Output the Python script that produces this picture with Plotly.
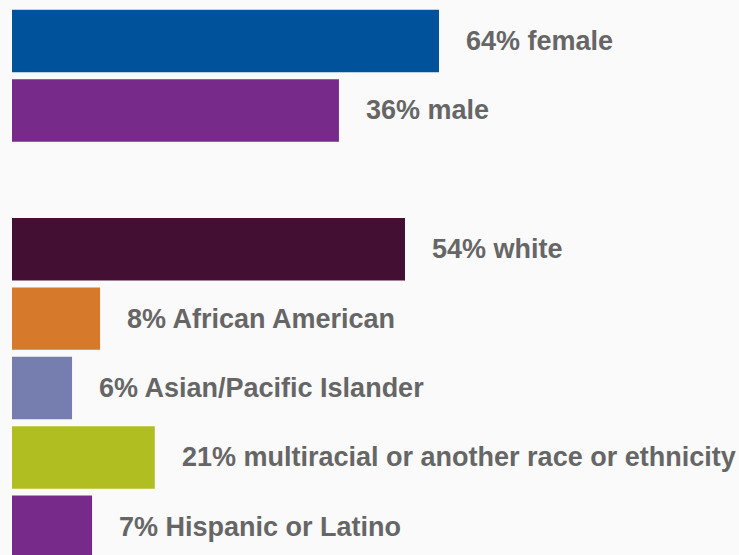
import plotly.graph_objects as go

# Data (labels show the stated percentages; bar lengths are read from the picture,
# which draws them in an illustrative, not strictly proportional, way)
categories = ["female", "male", " ", "white", "African American",
              "Asian/Pacific Islander", "multiracial or another race or ethnicity",
              "Hispanic or Latino"]
bar_categories = ["female", "male", "white", "African American",
                  "Asian/Pacific Islander", "multiracial or another race or ethnicity",
                  "Hispanic or Latino"]
percent_labels = [64, 36, 54, 8, 6, 21, 7]
bar_lengths = [64, 49, 58.9, 13.2, 9.0, 21.4, 12.0]
colors = ["#00539B", "#772A8A", "#430F33", "#D7792A", "#767EB0", "#B0BE22", "#772A8A"]

fig = go.Figure()
fig.add_trace(go.Bar(
    x=bar_lengths,
    y=bar_categories,
    orientation="h",
    marker=dict(color=colors, line=dict(width=0)),
    hoverinfo="skip",
))

for cat, length, pct in zip(bar_categories, bar_lengths, percent_labels):
    fig.add_annotation(
        x=length, y=cat, xref="x", yref="y",
        text=f"<b>{pct}% {cat}</b>",
        showarrow=False, xanchor="left", yanchor="middle", xshift=25,
        font=dict(family="Liberation Sans, Arial, sans-serif", size=27, color="#666666"),
    )

fig.update_layout(
    width=739, height=555,
    margin=dict(l=12, r=0, t=0, b=0),
    paper_bgcolor="#FAFAFA",
    plot_bgcolor="#FAFAFA",
    bargap=0.1,
    showlegend=False,
    xaxis=dict(range=[0, 108.96], showgrid=False, zeroline=False,
               showticklabels=False, showline=False, fixedrange=True),
    yaxis=dict(type="category", categoryorder="array", categoryarray=categories,
               range=[7.406, -0.591], showgrid=False, zeroline=False,
               showticklabels=False, showline=False, fixedrange=True),
)

fig.write_html(
    "out.html",
    config={"displayModeBar": False},
    post_script="document.body.style.margin='0';document.body.style.background='#FAFAFA';",
)
